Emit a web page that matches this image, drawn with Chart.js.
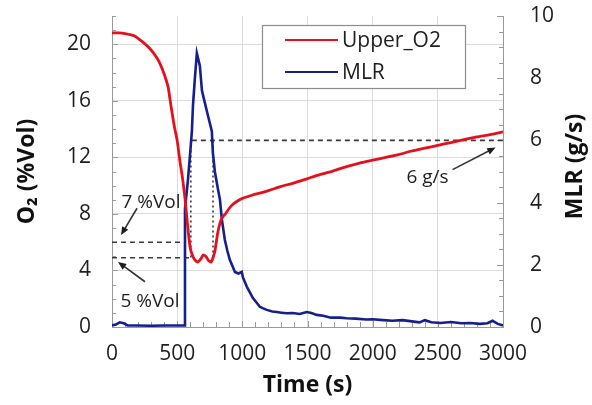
<!DOCTYPE html>
<html>
<head>
<meta charset="utf-8">
<script src="https://cdn.jsdelivr.net/npm/chart.js@4"></script>
<style>
  html, body { margin: 0; padding: 0; background: #fff; }
  canvas { display: block; }
</style>
</head>
<body>
<canvas id="chart" width="592" height="405"></canvas>
<script>
// ---- data ----
const timeO2 = [0,50,100,170,230,290,340,370,400,430,445,460,480,500,520,540,560,580,590,600,
  620,640,660,680,700,720,740,760,775,790,810,830,850,870,900,930,960,1000,1050,1100,
  1150,1200,1250,1300,1400,1500,1600,1700,1800,1900,2000,2100,2200,2300,2400,2500,2600,2700,2800,2900,3000];
const o2Values = [20.8,20.8,20.75,20.6,20.2,19.7,19.1,18.6,17.9,17.0,16.1,15.2,14.1,13.2,11.8,10.6,9.1,7.2,6.3,5.6,
  5.0,4.7,4.6,4.8,5.1,5.0,4.7,4.6,4.9,5.4,6.6,7.4,7.8,8.0,8.4,8.7,8.9,9.1,9.25,9.4,
  9.5,9.65,9.8,9.95,10.2,10.5,10.8,11.05,11.35,11.6,11.8,12.0,12.2,12.45,12.65,12.85,13.05,13.25,13.45,13.6,13.8];

const timeMLR = [0,30,60,90,120,200,300,400,500,556,560,582,598,613,621,636,651,674,690,713,
  736,766,774,789,810,828,843,866,885,904,925,943,970,996,1004,1034,1060,1080,1110,1134,
  1160,1188,1230,1264,1300,1340,1387,1440,1494,1530,1571,1620,1680,1750,1800,1870,1950,2000,2080,2150,
  2230,2300,2360,2400,2450,2520,2600,2680,2750,2820,2880,2920,2960,3000];
const mlrValues = [0.05,0.08,0.15,0.12,0.05,0.05,0.04,0.05,0.05,0.05,3.8,4.7,5.5,6.3,7.1,8.0,8.8,8.4,7.6,7.2,
  6.8,6.3,5.6,5.0,4.5,4.1,3.45,2.8,2.45,2.16,1.95,1.77,1.72,1.77,1.6,1.3,1.1,0.94,0.78,0.65,
  0.6,0.55,0.5,0.48,0.46,0.44,0.45,0.42,0.48,0.45,0.39,0.36,0.3,0.3,0.28,0.27,0.24,0.25,0.22,0.2,
  0.22,0.18,0.15,0.22,0.15,0.13,0.16,0.12,0.13,0.1,0.12,0.2,0.1,0.05];

const xTicks = [0,500,1000,1500,2000,2500,3000];
const o2Ticks = [0,4,8,12,16,20];
const mlrTicks = [0,2,4,6,8,10];

// guide lines (data units)
const o2Guides = [{ value: 6, to: 543 }, { value: 4.9, to: 613 }];
const mlrGuide = { value: 6, from: 613, to: 3000 };
const timeGuides = [{ t: 605, o2: 4.9 }, { t: 775, o2: 4.7 }];

// notes: text position + arrow (data units)
const notes = [
  { text: '7 %Vol', axis: 'y',  at: [299, 8.8],  from: [192, 8.4],  to: [69, 6.5] },
  { text: '5 %Vol', axis: 'y',  at: [291, 1.77], from: [253, 3.2],  to: [46, 4.6] },
  { text: '6 g/s',  axis: 'y1', at: [2421, 4.8], from: [2613, 5.06], to: [2943, 5.77] }
];

const RED = '#e3111b';
const BLUE = '#16208c';
const FONT = "'Open Sans', 'DejaVu Sans', sans-serif";

function arrow(ctx, x1, y1, x2, y2) {
  const a = Math.atan2(y2 - y1, x2 - x1), h = 9;
  ctx.beginPath(); ctx.moveTo(x1, y1); ctx.lineTo(x2 - Math.cos(a) * 5, y2 - Math.sin(a) * 5); ctx.stroke();
  ctx.beginPath();
  ctx.moveTo(x2, y2);
  ctx.lineTo(x2 - h * Math.cos(a - 0.4), y2 - h * Math.sin(a - 0.4));
  ctx.lineTo(x2 - h * Math.cos(a + 0.4), y2 - h * Math.sin(a + 0.4));
  ctx.closePath(); ctx.fill();
}

const decor = {
  id: 'decor',
  beforeDatasetsDraw(chart) {
    const { ctx, chartArea: ca, scales: { x, y, y1 } } = chart;
    ctx.save();
    // minor ticks, inside the plot
    ctx.strokeStyle = '#9a9a9a'; ctx.lineWidth = 1;
    ctx.beginPath();
    for (let v = 0; v <= 22; v++) { const p = Math.round(y.getPixelForValue(v)) + 0.5; ctx.moveTo(ca.left, p); ctx.lineTo(ca.left + (v % 4 ? 4 : 6), p); }
    for (let v = 0; v <= 10; v += 0.5) { const p = Math.round(y1.getPixelForValue(v)) + 0.5; ctx.moveTo(ca.right, p); ctx.lineTo(ca.right - (v % 2 ? 4 : 6), p); }
    for (let v = 0; v <= 3000; v += 100) { const p = Math.round(x.getPixelForValue(v)) + 0.5; ctx.moveTo(p, ca.bottom); ctx.lineTo(p, ca.bottom - (v % 500 ? 5 : 6)); }
    ctx.stroke();

    // dashed guides
    ctx.strokeStyle = '#3a3a3a'; ctx.lineWidth = 1.6;
    ctx.setLineDash([5, 4]);
    ctx.beginPath();
    o2Guides.forEach(g => {
      const py = y.getPixelForValue(g.value);
      ctx.moveTo(x.getPixelForValue(0), py); ctx.lineTo(x.getPixelForValue(g.to), py);
    });
    const my = y1.getPixelForValue(mlrGuide.value);
    ctx.moveTo(x.getPixelForValue(mlrGuide.from), my); ctx.lineTo(x.getPixelForValue(mlrGuide.to), my);
    ctx.stroke();
    ctx.setLineDash([2, 3]);
    ctx.beginPath();
    timeGuides.forEach(g => {
      const px = x.getPixelForValue(g.t);
      ctx.moveTo(px, my); ctx.lineTo(px, y.getPixelForValue(g.o2));
    });
    ctx.stroke();
    ctx.restore();
  },
  afterDatasetsDraw(chart) {
    const { ctx, chartArea: ca, scales } = chart;
    const { x } = scales;
    ctx.save();
    // notes + arrows
    ctx.font = '19px ' + FONT;
    ctx.fillStyle = '#1e1e1e'; ctx.strokeStyle = '#333'; ctx.lineWidth = 1.6;
    ctx.textAlign = 'center'; ctx.textBaseline = 'middle';
    notes.forEach(n => {
      const s = scales[n.axis];
      ctx.fillText(n.text, x.getPixelForValue(n.at[0]), s.getPixelForValue(n.at[1]));
      arrow(ctx, x.getPixelForValue(n.from[0]), s.getPixelForValue(n.from[1]),
                 x.getPixelForValue(n.to[0]), s.getPixelForValue(n.to[1]));
    });

    // legend box
    const lx = ca.left + 150, ly = ca.top + 9, lw = 203, lh = 63;
    ctx.fillStyle = '#fff'; ctx.fillRect(lx, ly, lw, lh);
    ctx.strokeStyle = '#8c8c8c'; ctx.lineWidth = 1.2; ctx.strokeRect(lx + 0.5, ly + 0.5, lw, lh);
    ctx.font = '21px ' + FONT; ctx.textAlign = 'left'; ctx.fillStyle = '#1e1e1e';
    chart.data.datasets.forEach((d, i) => {
      const yy = ly + 15 + i * 32;
      ctx.strokeStyle = d.borderColor; ctx.lineWidth = 2.2;
      ctx.beginPath(); ctx.moveTo(lx + 23, yy); ctx.lineTo(lx + 76, yy); ctx.stroke();
      ctx.fillText(d.label, lx + 80, yy + 1);
    });

    // right axis title, reading bottom to top
    const r = scales.y1;
    ctx.font = 'bold 23px ' + FONT; ctx.textAlign = 'center'; ctx.fillStyle = '#111';
    ctx.translate(r.right - 17, (r.top + r.bottom) / 2 - 5);
    ctx.rotate(-Math.PI / 2);
    ctx.fillText('MLR (g/s)', 0, 0);
    ctx.restore();
  }
};

const tickFont = { family: FONT, size: 21 };
const plain = v => String(v);
// fixed axis sizes, no extra edge padding from tick labels
const fitTo = size => s => {
  if (s.isHorizontal()) s.height = size; else s.width = size;
  s.paddingTop = 0; s.paddingBottom = 0; s.paddingLeft = 0; s.paddingRight = 0;
};

new Chart(document.getElementById('chart'), {
  type: 'line',
  data: {
    datasets: [
      { label: 'Upper_O2', data: timeO2.map((t, i) => ({ x: t, y: o2Values[i] })), yAxisID: 'y',
        borderColor: RED, borderWidth: 2.8, pointRadius: 0, tension: 0.2 },
      { label: 'MLR', data: timeMLR.map((t, i) => ({ x: t, y: mlrValues[i] })), yAxisID: 'y1',
        borderColor: BLUE, borderWidth: 2.6, pointRadius: 0, tension: 0 }
    ]
  },
  options: {
    responsive: false,
    animation: false,
    layout: { padding: { top: 16, left: 0, right: 0, bottom: 0 } },
    plugins: { legend: { display: false }, tooltip: { enabled: false } },
    scales: {
      x: {
        type: 'linear', min: 0, max: 3000,
        afterBuildTicks: s => { s.ticks = xTicks.map(v => ({ value: v })); },
        afterFit: fitTo(78),
        ticks: { font: tickFont, color: '#1e1e1e', padding: 14, maxRotation: 0, callback: plain },
        grid: { color: '#dcdcdc', drawTicks: false },
        border: { color: '#9a9a9a' },
        title: { display: true, text: 'Time (s)', color: '#111', font: { family: FONT, size: 23, weight: 'bold' }, padding: { top: 0, bottom: 6 } }
      },
      y: {
        position: 'left', min: 0, max: 22,
        afterBuildTicks: s => { s.ticks = o2Ticks.map(v => ({ value: v })); },
        afterFit: fitTo(112),
        ticks: { font: tickFont, color: '#1e1e1e', padding: 21, callback: plain },
        grid: { color: '#dcdcdc', drawTicks: false },
        border: { color: '#9a9a9a' },
        title: { display: true, text: 'O₂ (%Vol)', color: '#111', font: { family: FONT, size: 23, weight: 'bold' }, padding: { top: 14, bottom: 0 } }
      },
      y1: {
        position: 'right', min: 0, max: 10,
        afterBuildTicks: s => { s.ticks = mlrTicks.map(v => ({ value: v })); },
        afterFit: fitTo(89),
        ticks: { font: tickFont, color: '#1e1e1e', padding: 27, callback: plain },
        grid: { drawOnChartArea: false, drawTicks: false },
        border: { color: '#9a9a9a' }
      }
    }
  },
  plugins: [decor]
});
</script>
</body>
</html>
